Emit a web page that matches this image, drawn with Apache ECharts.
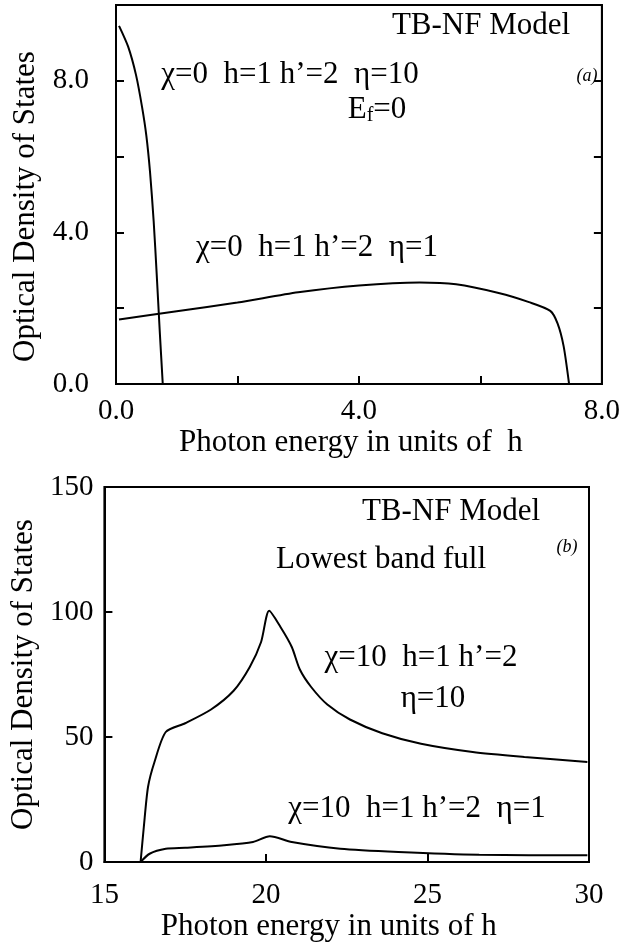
<!DOCTYPE html>
<html>
<head>
<meta charset="utf-8">
<script src="https://cdn.jsdelivr.net/npm/echarts@6/dist/echarts.min.js"></script>
<style>
  html, body { margin: 0; padding: 0; background: #fff; }
  #chart { width: 623px; height: 945px; }
</style>
</head>
<body>
<div id="chart"></div>
<script>
// panel (a): photon energy / h vs optical density of states
const topEta10 = [[0.05, 9.45], [0.2, 8.9], [0.33, 8.15], [0.43, 7.3], [0.5, 6.55], [0.56, 5.6],
  [0.62, 4.3], [0.67, 2.9], [0.72, 1.4], [0.77, 0]];
const topEta1 = [[0.05, 1.7], [1.0, 1.92], [2.0, 2.15], [3.0, 2.42], [4.0, 2.6], [5.0, 2.68], [5.6, 2.63],
  [6.3, 2.4], [6.8, 2.16], [7.15, 1.93], [7.27, 1.6], [7.37, 1.0], [7.46, 0]];

// panel (b): lowest band full
const botEta10 = [[16.12, 0], [16.22, 14], [16.35, 30], [16.55, 40], [16.9, 52], [17.5, 55.5], [18.3, 61],
  [19.0, 68.5], [19.5, 78], [19.85, 88], [20.1, 100.5], [20.45, 94], [20.8, 86], [21.05, 77], [21.4, 70],
  [21.9, 63], [22.6, 57], [23.6, 51.5], [24.8, 47.3], [26.4, 44], [28.0, 42], [29.95, 40]];
const botEta1 = [[16.12, 0], [16.4, 3.3], [16.9, 5.3], [17.5, 5.7], [18.7, 6.7], [19.6, 8], [20.12, 10.3],
  [20.8, 8], [22.3, 5.3], [24.1, 4], [26.6, 2.9], [29.95, 2.7]];

const topXLabels = [0, 4, 8];
const topYLabels = [0, 4, 8];

const FONT = '"Liberation Serif", "Times New Roman", serif';
const black = '#000';

function axisBase(extra) {
  return Object.assign({
    type: 'value',
    axisLine: { show: true, lineStyle: { color: black, width: 2 } },
    axisTick: { show: true, inside: true, length: 8, lineStyle: { color: black, width: 2 } },
    splitLine: { show: false },
    axisLabel: { color: black, fontFamily: FONT, fontSize: 29 },
    nameTextStyle: { color: black, fontFamily: FONT, fontSize: 31 },
    nameLocation: 'middle',
  }, extra);
}

function nameStyle(padding) {
  return { color: black, fontFamily: FONT, fontSize: 31, padding: padding };
}

function txt(x, y, text, size, extra) {
  return {
    type: 'text', x: x, y: y, silent: true,
    style: Object.assign({
      text: text, fill: black, align: 'center', verticalAlign: 'middle',
      font: size + 'px ' + FONT,
    }, extra || {}),
  };
}

const chart = echarts.init(document.getElementById('chart'));

const option = {
  backgroundColor: '#fff',
  animation: false,
  grid: [
    { left: 116, right: 15, top: 5, bottom: 561, show: true, borderColor: black, borderWidth: 2 },
    { left: 97, right: 34, top: 487, bottom: 83, show: true, borderColor: black, borderWidth: 2 },
  ],
  xAxis: [
    axisBase({
      gridIndex: 0, min: 0, max: 8, interval: 2,
      name: 'Photon energy in units of  h', nameGap: 42, nameTextStyle: nameStyle([0, 16, 0, 0]),
      axisLabel: {
        color: black, fontFamily: FONT, fontSize: 29, margin: 13,
        formatter: (v) => (topXLabels.indexOf(v) >= 0 ? v.toFixed(1) : ''),
      },
    }),
    axisBase({
      gridIndex: 1, min: 15, max: 30, interval: 5,
      name: 'Photon energy in units of h', nameGap: 45, nameTextStyle: nameStyle([0, 36, 0, 0]),
      axisLabel: { color: black, fontFamily: FONT, fontSize: 29, margin: 19 },
    }),
  ],
  yAxis: [
    axisBase({
      gridIndex: 0, min: 0, max: 10, interval: 2,
      name: 'Optical Density of States', nameGap: 73, nameTextStyle: nameStyle([0, 24, 0, 0]),
      axisLabel: {
        color: black, fontFamily: FONT, fontSize: 29, margin: 27,
        formatter: (v) => (topYLabels.indexOf(v) >= 0 ? v.toFixed(1) : ''),
      },
    }),
    axisBase({
      gridIndex: 1, min: 0, max: 150, interval: 50,
      name: 'Optical Density of States', nameGap: 54,
      axisLabel: { color: black, fontFamily: FONT, fontSize: 29, margin: 11 },
    }),
    axisBase({
      gridIndex: 0, min: 0, max: 10, interval: 2, position: 'right',
      axisLabel: { show: false },
    }),
  ],
  series: [
    { type: 'line', xAxisIndex: 0, yAxisIndex: 0, data: topEta10 },
    { type: 'line', xAxisIndex: 0, yAxisIndex: 0, data: topEta1 },
    { type: 'line', xAxisIndex: 1, yAxisIndex: 1, data: botEta10 },
    { type: 'line', xAxisIndex: 1, yAxisIndex: 1, data: botEta1 },
  ].map((s) => Object.assign(s, {
    symbol: 'none', smooth: 0.25, silent: true,
    lineStyle: { color: black, width: 2 },
  })),
  graphic: [
    txt(481, 26, 'TB-NF Model', 31),
    txt(290, 75, 'χ=0  h=1 h’=2  η=10', 31),
    txt(587, 76, '(a)', 18, { font: 'italic 18px ' + FONT }),
    txt(377, 110, 'E{sub|f}=0', 31, {
      rich: { sub: { fontSize: 20, fontFamily: FONT, verticalAlign: 'bottom', padding: [12, 0, 0, 0] } },
    }),
    txt(317, 248, 'χ=0  h=1 h’=2  η=1', 31),
    txt(451, 512, 'TB-NF Model', 31),
    txt(567, 547, '(b)', 18, { font: 'italic 18px ' + FONT }),
    txt(381, 560, 'Lowest band full', 31),
    txt(421, 658, 'χ=10  h=1 h’=2', 31),
    txt(433, 699, 'η=10', 31),
    txt(417, 809, 'χ=10  h=1 h’=2  η=1', 31),
  ],
};

chart.setOption(option);
</script>
</body>
</html>
